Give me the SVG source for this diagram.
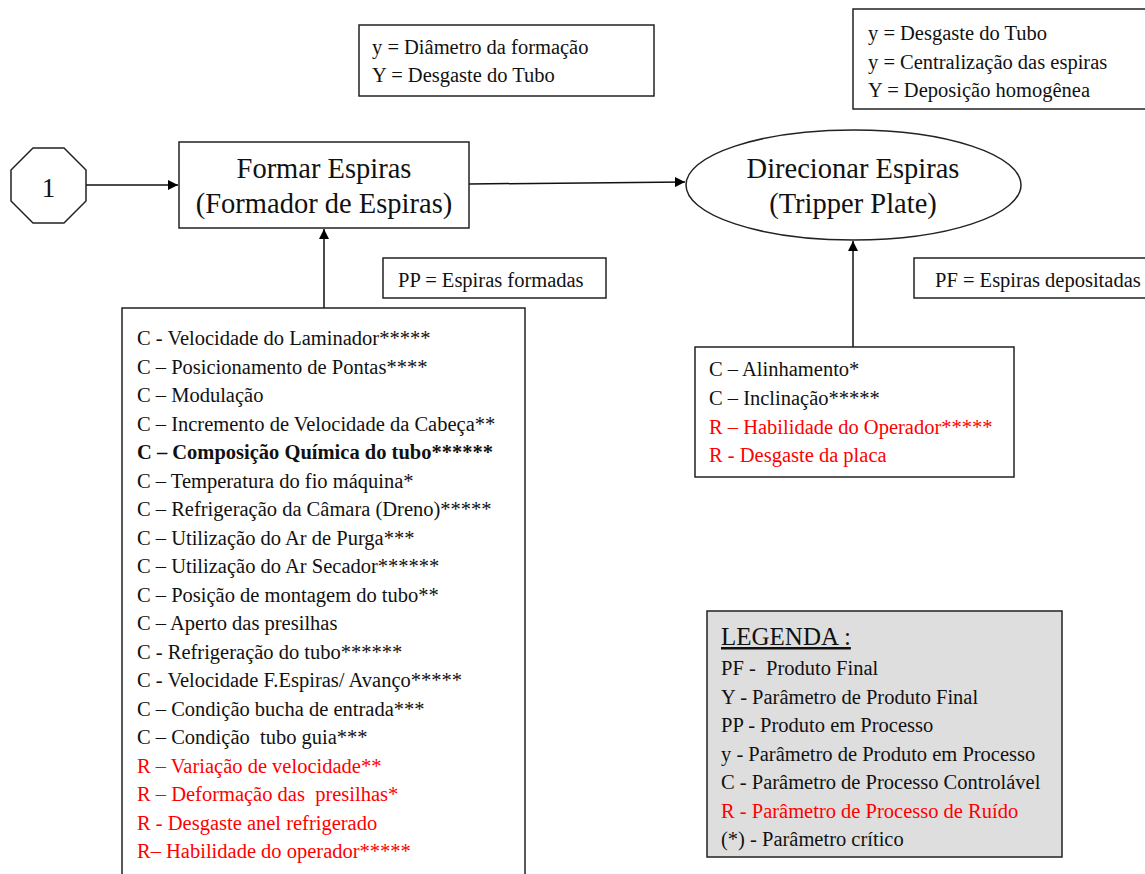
<svg xmlns="http://www.w3.org/2000/svg" width="1145" height="874" viewBox="0 0 1145 874">
<style>
text{font-family:"Liberation Serif","Times New Roman",serif;fill:#111}
.t{font-size:20.5px}
.big{font-size:28.5px;text-anchor:middle}
.r{fill:#ff0000}
.b{font-weight:bold}
.box{fill:#fff;stroke:#222;stroke-width:1.5}
.ln{stroke:#111;stroke-width:1.5;fill:none}
</style>
<defs>
<marker id="ah" viewBox="0 0 10 10" refX="10" refY="5" markerWidth="10" markerHeight="10" markerUnits="userSpaceOnUse" orient="auto">
<path d="M0,0 L10,5 L0,10 z" fill="#000"/>
</marker>
</defs>
<rect width="1145" height="874" fill="#fff"/>

<g id="connectors">
<line class="ln" x1="86" y1="185" x2="178" y2="185" marker-end="url(#ah)"/>
<line class="ln" x1="469" y1="184" x2="685" y2="182" marker-end="url(#ah)"/>
<line class="ln" x1="324" y1="308" x2="324" y2="229" marker-end="url(#ah)"/>
<line class="ln" x1="853" y1="347" x2="853" y2="241" marker-end="url(#ah)"/>
</g>

<g id="n-start">
<polygon class="box" points="33,148 64,148 86,170 86,201 64,223 33,223 11,201 11,170"/>
<text x="48.5" y="197" style="font-size:27px;text-anchor:middle">1</text>
</g>

<g id="n-formar">
<rect class="box" x="179" y="142" width="290" height="86"/>
<text class="big" x="324" y="178">Formar Espiras</text>
<text class="big" x="324" y="213">(Formador de Espiras)</text>
</g>

<g id="n-direcionar">
<ellipse class="box" cx="853.5" cy="185" rx="167.5" ry="55"/>
<text class="big" x="853" y="178">Direcionar Espiras</text>
<text class="big" x="853" y="213">(Tripper Plate)</text>
</g>

<g id="n-y1">
<rect class="box" x="359" y="25" width="295" height="71"/>
<text class="t" x="372" y="54">y = Diâmetro da formação</text>
<text class="t" x="372" y="82">Y = Desgaste do Tubo</text>
</g>

<g id="n-y2">
<rect class="box" x="853" y="9" width="300" height="100"/>
<text class="t" x="868" y="40">y = Desgaste do Tubo</text>
<text class="t" x="868" y="69">y = Centralização das espiras</text>
<text class="t" x="868" y="97">Y = Deposição homogênea</text>
</g>

<g id="n-pp">
<rect class="box" x="383" y="258" width="223" height="40"/>
<text class="t" x="398" y="287">PP = Espiras formadas</text>
</g>

<g id="n-pf">
<rect class="box" x="914" y="258" width="240" height="40"/>
<text class="t" x="935" y="287">PF = Espiras depositadas</text>
</g>

<g id="n-params1">
<rect class="box" x="122" y="308" width="403" height="580"/>
<text class="t" x="137" y="345">C - Velocidade do Laminador*****</text>
<text class="t" x="137" y="373.5">C – Posicionamento de Pontas****</text>
<text class="t" x="137" y="402">C – Modulação</text>
<text class="t" x="137" y="430.5">C – Incremento de Velocidade da Cabeça**</text>
<text class="t b" x="137" y="459">C – Composição Química do tubo******</text>
<text class="t" x="137" y="487.5">C – Temperatura do fio máquina*</text>
<text class="t" x="137" y="516">C – Refrigeração da Câmara (Dreno)*****</text>
<text class="t" x="137" y="544.5">C – Utilização do Ar de Purga***</text>
<text class="t" x="137" y="573">C – Utilização do Ar Secador******</text>
<text class="t" x="137" y="601.5">C – Posição de montagem do tubo**</text>
<text class="t" x="137" y="630">C – Aperto das presilhas</text>
<text class="t" x="137" y="658.5">C - Refrigeração do tubo******</text>
<text class="t" x="137" y="687">C - Velocidade F.Espiras/ Avanço*****</text>
<text class="t" x="137" y="715.5">C – Condição bucha de entrada***</text>
<text class="t" x="137" y="744" xml:space="preserve">C – Condição  tubo guia***</text>
<text class="t r" x="137" y="772.5">R – Variação de velocidade**</text>
<text class="t r" x="137" y="801" xml:space="preserve">R – Deformação das  presilhas*</text>
<text class="t r" x="137" y="829.5">R - Desgaste anel refrigerado</text>
<text class="t r" x="137" y="858">R– Habilidade do operador*****</text>
</g>

<g id="n-params2">
<rect class="box" x="695" y="347" width="319" height="130"/>
<text class="t" x="709" y="376">C – Alinhamento*</text>
<text class="t" x="709" y="405">C – Inclinação*****</text>
<text class="t r" x="709" y="434">R – Habilidade do Operador*****</text>
<text class="t r" x="709" y="462">R - Desgaste da placa</text>
</g>

<g id="n-legenda">
<rect x="707" y="611" width="355" height="246" fill="#dedede" stroke="#222" stroke-width="1.5"/>
<text x="721" y="645" style="font-size:25px;text-decoration:underline">LEGENDA :</text>
<text class="t" x="721" y="675" xml:space="preserve">PF -  Produto Final</text>
<text class="t" x="721" y="704">Y - Parâmetro de Produto Final</text>
<text class="t" x="721" y="732">PP - Produto em Processo</text>
<text class="t" x="721" y="761">y - Parâmetro de Produto em Processo</text>
<text class="t" x="721" y="789">C - Parâmetro de Processo Controlável</text>
<text class="t r" x="721" y="818">R - Parâmetro de Processo de Ruído</text>
<text class="t" x="721" y="846">(*) - Parâmetro crítico</text>
</g>
</svg>
